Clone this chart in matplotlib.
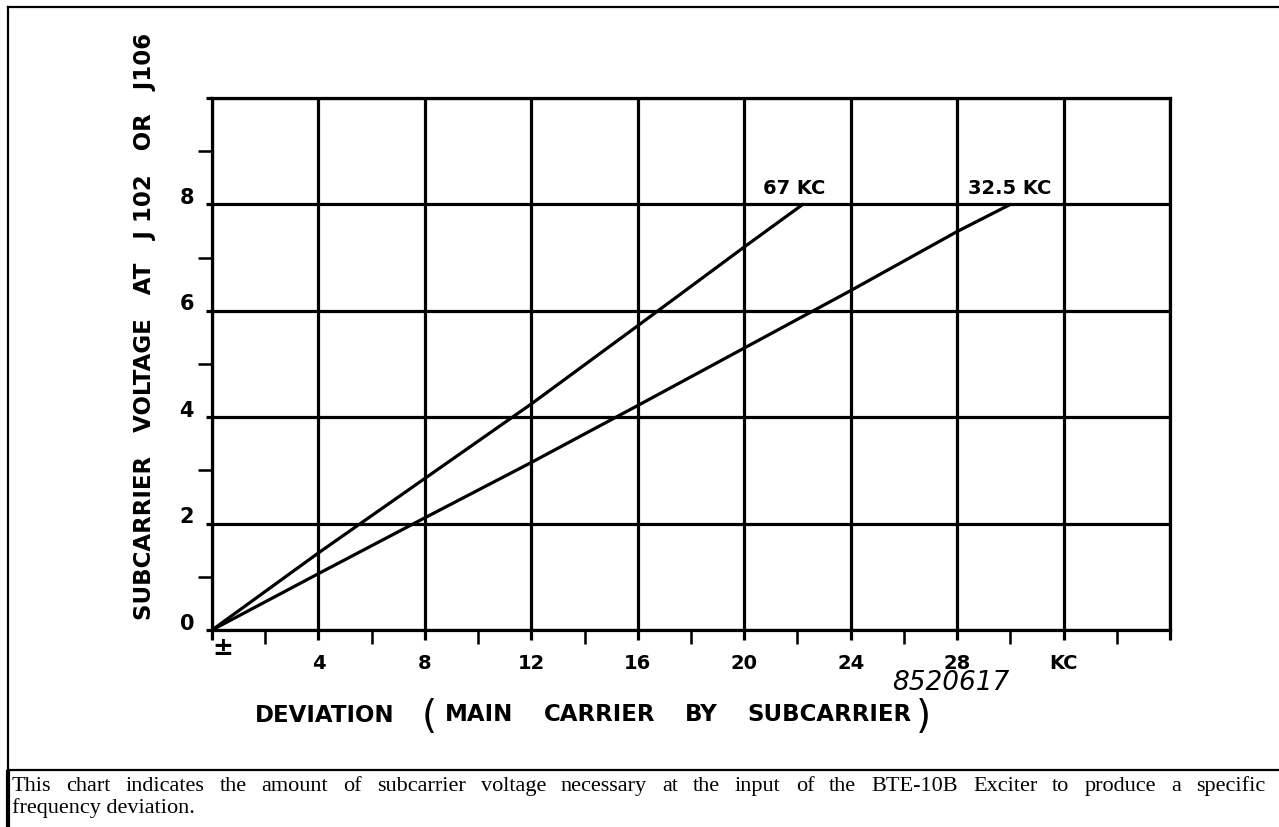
import matplotlib
matplotlib.use("Agg")
import matplotlib.pyplot as plt
import matplotlib.transforms as mtransforms
from matplotlib.lines import Line2D
from matplotlib.ticker import MultipleLocator

# Subcarrier voltage needed for a given deviation, per subcarrier frequency
dev_67 = [0, 4, 8, 12, 16, 20, 22.2]
volt_67 = [0, 1.45, 2.85, 4.25, 5.72, 7.2, 8.0]
dev_325 = [0, 4, 8, 12, 16, 20, 24, 28, 30]
volt_325 = [0, 1.06, 2.11, 3.15, 4.22, 5.3, 6.38, 7.49, 8.0]

curve_labels = ["67 KC", "32.5 KC"]
x_ticks = [0, 4, 8, 12, 16, 20, 24, 28, 32, 36]
x_tick_labels = ["", "4", "8", "12", "16", "20", "24", "28", "KC", ""]
y_ticks = [0, 2, 4, 6, 8, 10]
y_tick_labels = ["0", "2", "4", "6", "8", ""]

caption_1 = ("This chart indicates the amount of subcarrier voltage necessary at the input of the "
             "BTE-10B Exciter to produce a specific")
caption_2 = "frequency deviation."

LW = 2.3
BOLD = dict(family="DejaVu Sans", weight="bold")

fig = plt.figure(figsize=(12.79, 8.27), dpi=100)
ax = fig.add_axes([0.1658, 0.2382, 0.749, 0.6433])


def spread_words(words, x0, x1, y, **kw):
    """Lay words out on one line so they fill x0..x1 (figure fraction)."""
    arts = [fig.text(x0, y, w, ha="left", va="baseline", **kw) for w in words]
    fig.canvas.draw()
    r = fig.canvas.get_renderer()
    ws = [a.get_window_extent(r).width / fig.bbox.width for a in arts]
    gap = (x1 - x0 - sum(ws)) / (len(words) - 1)
    x = x0
    for a, w in zip(arts, ws):
        a.set_x(x)
        x += w + gap
    return arts


ax.set_xlim(0, 36)
ax.set_ylim(0, 10)
ax.set_xticks(x_ticks)
ax.set_xticklabels(x_tick_labels, fontsize=14, **BOLD)
ax.set_yticks(y_ticks)
ax.set_yticklabels(y_tick_labels, fontsize=15, **BOLD)
ax.xaxis.set_minor_locator(MultipleLocator(2))
ax.yaxis.set_minor_locator(MultipleLocator(1))
ax.tick_params(which="major", direction="out", length=7, width=LW, color="black", pad=10)
ax.tick_params(axis="y", which="major", pad=9, length=4)
ax.tick_params(which="minor", direction="out", length=10, width=LW * 0.8, color="black")
ax.grid(True, which="major", color="black", linewidth=LW)
for s in ax.spines.values():
    s.set_linewidth(LW)

# y labels sit a little above their gridlines
shift = mtransforms.ScaledTranslation(0, 6 / 72, fig.dpi_scale_trans)
for lab in ax.get_yticklabels():
    lab.set_transform(lab.get_transform() + shift)

# plus/minus marker under the origin
ax.text(0.4, -0.12, "±", fontsize=18, ha="center", va="top", **BOLD)

ax.plot(dev_67, volt_67, color="black", linewidth=LW, solid_capstyle="round")
ax.plot(dev_325, volt_325, color="black", linewidth=LW, solid_capstyle="round")
ax.text(20.7, 8.12, curve_labels[0], fontsize=14, ha="left", va="bottom", **BOLD)
ax.text(28.4, 8.12, curve_labels[1], fontsize=14, ha="left", va="bottom", **BOLD)

ax.set_ylabel("SUBCARRIER   VOLTAGE   AT   J 102   OR   J106", fontsize=16.5, **BOLD)
ax.yaxis.set_label_coords(-0.058, 0.571)

# x axis title with the tall bracket pair
fig.text(0.1994, 0.1354, "DEVIATION", fontsize=16.5, ha="left", va="center", **BOLD)
fig.text(0.330, 0.1330, "(", fontsize=28, ha="left", va="center", family="DejaVu Sans")
spread_words(["MAIN", "CARRIER", "BY", "SUBCARRIER"], 0.348, 0.713, 0.1354 - 0.0075,
             fontsize=16.5, **BOLD)
fig.text(0.716, 0.1330, ")", fontsize=28, ha="left", va="center", family="DejaVu Sans")

fig.text(0.743, 0.174, "8520617", fontsize=19, style="italic", ha="center", va="center",
         family="DejaVu Sans", weight="light")

# page frame and caption separator
fig.add_artist(Line2D([0.006, 1.0], [0.991, 0.991], color="black", linewidth=1.6))
fig.add_artist(Line2D([0.006, 0.006], [0.0667, 0.991], color="black", linewidth=1.6))
fig.add_artist(Line2D([0.006, 0.006], [0.0, 0.0667], color="black", linewidth=3))
fig.add_artist(Line2D([0.006, 1.0], [0.0685, 0.0685], color="black", linewidth=1.6))

spread_words(caption_1.split(), 0.0094, 0.989, 0.0440, fontsize=16, family="Liberation Serif")
fig.text(0.0094, 0.0170, caption_2, fontsize=16, family="Liberation Serif", ha="left",
         va="baseline")

fig.savefig("out.png", dpi=100)
